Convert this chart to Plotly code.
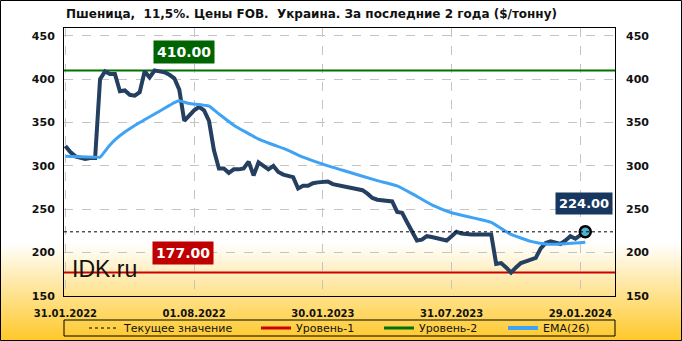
import plotly.graph_objects as go
import pandas as pd

# ---------------- data ----------------
title_text = "Пшеница,  11,5%. Цены FOB.  Украина. За последние 2 года ($/тонну)"
start_date = "2022-01-31"
price = [323, 316, 311, 309, 308, 309, 309, 400, 409, 406,
         406, 386, 387, 382, 381, 385, 409, 402, 410, 409,
         408, 405, 401, 388, 352, 358, 364, 368, 364, 352,
         318, 297, 297, 292, 296, 296, 297, 305, 289, 304,
         300, 296, 300, 293, 290, 288, 287, 274, 277, 277,
         280, 281, 281, 282, 279, 278, 277, 276, 275, 273,
         272, 268, 263, 261, 260, 259, 259, 247, 246, 235,
         224, 214, 215, 219, 218, 217, 216, 214, 219, 224,
         222, 221, 221, 221, 221, 221, 221, 187, 188, 183,
         177, 183, 188, 190, 192, 194, 205, 211, 213, 211,
         210, 214, 219, 216, 220, 224]
ema_dates = ["2022-01-31", "2022-03-14", "2022-03-21", "2022-03-28", "2022-04-04",
             "2022-04-11", "2022-04-25", "2022-05-16", "2022-06-13", "2022-07-04",
             "2022-07-11", "2022-07-25", "2022-08-22", "2022-09-05", "2022-09-26",
             "2022-10-31", "2022-12-12", "2023-01-02", "2023-02-06", "2023-02-27",
             "2023-04-17", "2023-05-15", "2023-06-05", "2023-07-03", "2023-07-31",
             "2023-09-25", "2023-10-09", "2023-10-23", "2023-11-20", "2023-12-11",
             "2024-01-01", "2024-02-05"]
ema_values = [311, 310, 310, 317, 324,
              330, 339, 350, 363, 373,
              375, 372, 369, 360, 347,
              331, 318, 310, 300, 295,
              283, 277, 268, 255, 246,
              235, 228, 221, 213, 210,
              210, 212]
current_value = 224.0
level1 = 177.0
level2 = 410.0
x_range = ["2022-01-29", "2024-03-18"]
y_range = [150, 459]
x_tickvals = ["2022-01-31", "2022-08-01", "2023-01-30", "2023-07-31", "2024-01-29"]
x_ticktext = ["31.01.2022", "01.08.2022", "30.01.2023", "31.07.2023", "29.01.2024"]
y_tickvals = [150, 200, 250, 300, 350, 400, 450]
legend_names = ["Текущее значение", "Уровень-1", "Уровень-2", "EMA(26)"]
level2_label_date = "2022-07-18"
level1_label_date = "2022-07-16"
watermark = "IDK.ru"

dates = pd.date_range(start_date, periods=len(price), freq="7D")

# ---------------- geometry helpers (pixel -> paper) ----------------
W, H = 682, 341
ML, MR, MT, MB = 64, 67, 28, 45
PW, PH = W - ML - MR, H - MT - MB


def px(x):
    return (x - ML) / PW


def py(y):
    return (H - MB - y) / PH


fig = go.Figure()

# level lines
fig.add_trace(go.Scatter(x=x_range, y=[level2, level2], mode="lines",
                         line=dict(color="#007000", width=2), showlegend=False, hoverinfo="skip"))
fig.add_trace(go.Scatter(x=x_range, y=[level1, level1], mode="lines",
                         line=dict(color="#cc0000", width=2), showlegend=False, hoverinfo="skip"))
# current value dashed line (on the right axis)
fig.add_trace(go.Scatter(x=x_range, y=[current_value, current_value], mode="lines",
                         line=dict(color="black", width=1, dash="3px,3px"),
                         showlegend=False, hoverinfo="skip", yaxis="y2"))
# price
fig.add_trace(go.Scatter(x=dates, y=price, mode="lines",
                         line=dict(color="#243f60", width=4), showlegend=False))
# EMA
fig.add_trace(go.Scatter(x=pd.to_datetime(ema_dates), y=ema_values, mode="lines",
                         line=dict(color="#3fa3f5", width=3, shape="spline", smoothing=0.4),
                         showlegend=False))
# last point marker
fig.add_trace(go.Scatter(x=[dates[-1]], y=[price[-1]], mode="markers",
                         marker=dict(size=11, color="#4fb3d0", line=dict(color="black", width=2.5)),
                         showlegend=False))

# legend-only traces, each in its own legend so it can be placed like the original
leg_styles = [dict(color="black", width=1, dash="3px,3px"),
              dict(color="#cc0000", width=3),
              dict(color="#007000", width=3),
              dict(color="#3fa3f5", width=4)]
leg_ids = ["legend", "legend2", "legend3", "legend4"]
leg_px = [84, 256, 379, 503]
for name, st, lid in zip(legend_names, leg_styles, leg_ids):
    fig.add_trace(go.Scatter(x=[None], y=[None], mode="lines", line=st, name=name, legend=lid))

# ---------------- background gradient & frames ----------------
shapes = []
g_top, g_bot = 243, 341
steps = 49
for k in range(steps):
    y0 = g_top + (g_bot - g_top) * k / steps
    y1 = g_top + (g_bot - g_top) * (k + 1) / steps
    t = (k + 0.5) / steps
    r = 255
    g = round(255 - (255 - 200) * t)
    b = round(255 - (255 - 40) * t)
    shapes.append(dict(type="rect", xref="paper", yref="paper",
                       x0=px(0), x1=px(W), y0=py(y1 + 0.5), y1=py(y0),
                       fillcolor=f"rgb({r},{g},{b})", line=dict(width=0), layer="below"))
# outer border
shapes.append(dict(type="rect", xref="paper", yref="paper",
                   x0=px(0.5), x1=px(W - 0.5), y0=py(H - 0.5), y1=py(0.5),
                   line=dict(color="black", width=1), fillcolor="rgba(0,0,0,0)", layer="above"))
# legend box
shapes.append(dict(type="rect", xref="paper", yref="paper",
                   x0=px(64), x1=px(615), y0=py(336), y1=py(320),
                   line=dict(color="black", width=1), fillcolor="rgba(0,0,0,0)", layer="above"))

annotations = [
    dict(x=level2_label_date, y=level2, xref="x", yref="y", text="<b>410.00</b>",
         showarrow=False, yanchor="bottom", yshift=7, bgcolor="#006400",
         font=dict(family="DejaVu Sans", size=14, color="white"), borderpad=3),
    dict(x=level1_label_date, y=level1, xref="x", yref="y", text="<b>177.00</b>",
         showarrow=False, yanchor="bottom", yshift=8, bgcolor="#c00000",
         font=dict(family="DejaVu Sans", size=14, color="white"), borderpad=3),
    dict(x=px(613), y=py(203), xref="paper", yref="paper", text="<b>224.00</b>",
         showarrow=False, xanchor="right", yanchor="middle", bgcolor="#17375e",
         font=dict(family="DejaVu Sans", size=13, color="white"), borderpad=3),
    dict(x=px(70), y=py(269), xref="paper", yref="paper", text=watermark,
         showarrow=False, xanchor="left", yanchor="middle",
         font=dict(family="Liberation Sans", size=23, color="#111111")),
    dict(x=px(64), y=py(14), xref="paper", yref="paper", text=title_text,
         showarrow=False, xanchor="left", yanchor="middle",
         font=dict(family="DejaVu Sans", size=12, color="#111111", weight="bold")),
]

axis_font = dict(family="DejaVu Sans", size=11, color="#111111", weight="bold")

legend_common = dict(orientation="h", xanchor="left", y=py(328), yanchor="middle",
                     bgcolor="rgba(0,0,0,0)", borderwidth=0,
                     font=dict(family="DejaVu Sans", size=11, color="#111111"))
legend_layout = {lid: dict(legend_common, x=px(lx)) for lid, lx in zip(leg_ids, leg_px)}

fig.update_layout(
    width=W, height=H,
    margin=dict(l=ML, r=MR, t=MT, b=MB, autoexpand=False),
    paper_bgcolor="white",
    plot_bgcolor="rgba(0,0,0,0)",
    shapes=shapes,
    annotations=annotations,
    showlegend=True,
    xaxis=dict(type="date", range=x_range, tickvals=x_tickvals, ticktext=x_ticktext,
               showgrid=True, gridcolor="#c4c4c4", griddash="dash", gridwidth=1,
               showline=True, linecolor="black", linewidth=1, mirror=True,
               ticks="", tickfont=dict(family="DejaVu Sans", size=10, color="#111111", weight="bold"),
               zeroline=False, ticklabelstandoff=8),
    yaxis=dict(range=y_range, tickvals=y_tickvals, showgrid=True, gridcolor="#c4c4c4",
               griddash="dash", gridwidth=1, showline=True, linecolor="black", linewidth=1,
               mirror=True, ticks="", tickfont=axis_font, zeroline=False, ticklabelstandoff=6),
    yaxis2=dict(range=y_range, tickvals=y_tickvals, overlaying="y", side="right",
                showgrid=False, showline=False, ticks="", tickfont=axis_font, zeroline=False,
                ticklabelstandoff=10),
    **legend_layout,
)

fig.write_html("out.html")
